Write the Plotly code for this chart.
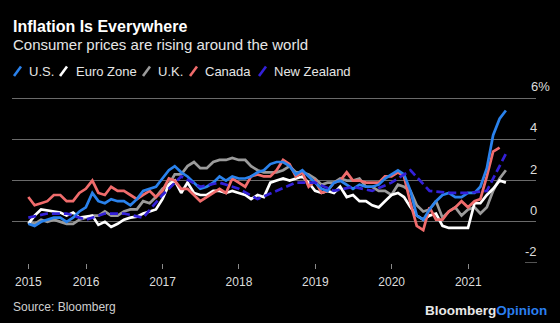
import pandas as pd
import plotly.graph_objects as go

# ---------------- data ----------------
months = pd.date_range("2015-03-31", periods=76, freq=pd.offsets.MonthEnd())
quarters = pd.date_range("2015-03-31", periods=26, freq=pd.offsets.QuarterEnd())

us = [-0.1, -0.2, 0.0, 0.1, 0.2, 0.2, 0.0, 0.2, 0.5, 0.7,
      1.4, 1.0, 0.9, 1.1, 1.0, 1.0, 0.8, 1.1, 1.5, 1.6, 1.7, 2.1,
      2.5, 2.7, 2.4, 2.2, 1.9, 1.6, 1.7, 1.9, 2.2, 2.0, 2.2, 2.1,
      2.1, 2.2, 2.4, 2.5, 2.8, 2.9, 2.9, 2.7, 2.3, 2.5, 2.2, 1.9,
      1.6, 1.5, 1.9, 2.0, 1.8, 1.6, 1.8, 1.7, 1.7, 1.8, 2.1, 2.3,
      2.5, 2.3, 1.5, 0.3, 0.1, 0.6, 1.0, 1.3, 1.4, 1.2, 1.2, 1.4,
      1.4, 1.7, 2.6, 4.2, 5.0, 5.4]

euro = [-0.1, 0.3, 0.6, 0.55, 0.5, 0.45, 0.3, 0.45, 0.2, 0.25,
        0.3, -0.15, 0.0, -0.25, -0.1, 0.1, 0.2, 0.25, 0.4, 0.5, 0.6, 1.1,
        1.8, 2.0, 1.4, 1.9, 1.4, 1.3, 1.3, 1.5, 1.5, 1.4, 1.5, 1.4,
        1.3, 1.1, 1.3, 1.2, 1.9, 2.0, 2.1, 2.0, 2.1, 2.2, 1.9, 1.5,
        1.4, 1.5, 1.4, 1.7, 1.2, 1.3, 1.0, 1.0, 0.8, 0.7, 1.0, 1.3,
        1.4, 1.2, 0.7, 0.3, 0.1, 0.3, 0.4, -0.2, -0.3, -0.3, -0.3, -0.3,
        0.9, 0.9, 1.3, 1.6, 2.0, 1.9]

uk = [0.0, -0.1, 0.1, 0.0, 0.1, 0.0, -0.1, -0.1, 0.1, 0.2,
      0.3, 0.3, 0.5, 0.3, 0.3, 0.5, 0.6, 0.6, 1.0, 0.9, 1.2, 1.6,
      1.8, 2.3, 2.3, 2.7, 2.9, 2.6, 2.6, 2.9, 3.0, 3.0, 3.1, 3.0,
      3.0, 2.7, 2.5, 2.4, 2.4, 2.4, 2.5, 2.7, 2.4, 2.4, 2.3, 2.1,
      1.8, 1.9, 1.9, 2.1, 2.0, 2.0, 2.1, 1.7, 1.7, 1.5, 1.5, 1.3,
      1.8, 1.7, 1.5, 0.8, 0.5, 0.6, 1.0, 0.2, 0.5, 0.7, 0.3, 0.6,
      0.7, 0.4, 0.7, 1.5, 2.1, 2.5]

canada = [1.2, 0.8, 0.9, 1.0, 1.3, 1.3, 1.0, 1.0, 1.4, 1.6,
          2.0, 1.4, 1.3, 1.7, 1.5, 1.5, 1.3, 1.1, 1.3, 1.5, 1.2, 1.5,
          2.1, 2.0, 1.6, 1.6, 1.3, 1.0, 1.2, 1.4, 1.6, 1.4, 2.1, 1.9,
          1.7, 2.2, 2.3, 2.2, 2.2, 2.5, 3.0, 2.8, 2.2, 2.4, 1.7, 2.0,
          1.4, 1.5, 1.9, 2.0, 2.4, 2.0, 2.0, 1.9, 1.9, 1.9, 2.2, 2.2,
          2.4, 2.2, 0.9, -0.2, -0.4, 0.7, 0.1, 0.1, 0.5, 0.7, 1.0, 0.7,
          1.0, 1.1, 2.2, 3.4, 3.6]

new_zealand = [0.2, 0.4, 0.4, 0.1,
               0.4, 0.4, 0.2, 1.3,
               2.2, 1.7, 1.9, 1.6,
               1.1, 1.5, 1.9, 1.9,
               1.5, 1.7, 1.5, 1.9,
               2.5, 1.5, 1.4, 1.4,
               1.5, 3.3]

series_names = ["U.S.", "Euro Zone", "U.K.", "Canada", "New Zealand"]
year_tick_dates = ["2015-03-31", "2016-01-01", "2017-01-01", "2018-01-01",
                   "2019-01-01", "2020-01-01", "2021-01-01"]
year_tick_labels = ["2015", "2016", "2017", "2018", "2019", "2020", "2021"]
y_tick_values = [6, 4, 2, 0, -2]
y_tick_labels = ["6%", "4", "2", "0", "-2"]

# ---------------- style ----------------
FONT = "Liberation Sans, Arial, Helvetica, sans-serif"
C_US, C_EU, C_UK, C_CA, C_NZ = "#2a82ec", "#ffffff", "#9b9b9b", "#f06c6c", "#3320d8"
W, H = 560, 323
PL, PR, PT, PB = 12, 536, 94, 263


def pxx(x):
    return (x - PL) / (PR - PL)


def pyy(y):
    return (PB - y) / (PB - PT)


fig = go.Figure()
traces = [
    (months[:len(uk)], uk, C_UK, "solid", "U.K."),
    (months[:len(euro)], euro, C_EU, "solid", "Euro Zone"),
    (months[:len(canada)], canada, C_CA, "solid", "Canada"),
    (months[:len(us)], us, C_US, "solid", "U.S."),
    (quarters[:len(new_zealand)], new_zealand, C_NZ, "8px,4px", "New Zealand"),
]
for xs, ys, col, dash, nm in traces:
    fig.add_trace(go.Scatter(x=xs, y=ys, mode="lines", name=nm,
                             line=dict(color=col, width=2.7, dash=dash),
                             showlegend=False, hoverinfo="skip"))

annotations = []
shapes = []

# title / subtitle
annotations.append(dict(text="<b>Inflation Is Everywhere</b>", x=pxx(11), y=pyy(26.5),
                        xref="paper", yref="paper", xanchor="left", yanchor="middle",
                        showarrow=False, font=dict(family=FONT, size=16, color="#ffffff")))
annotations.append(dict(text="Consumer prices are rising around the world", x=pxx(11), y=pyy(44),
                        xref="paper", yref="paper", xanchor="left", yanchor="middle",
                        showarrow=False, font=dict(family=FONT, size=15, color="#e6e6e6")))

# custom legend
legend_colors = [C_US, C_EU, C_UK, C_CA, C_NZ]
slash_x = [14, 60, 143, 190, 259]
text_x = [27, 74, 156, 203, 272]
for nm, col, sx, tx in zip(series_names, legend_colors, slash_x, text_x):
    shapes.append(dict(type="line", xref="paper", yref="paper",
                       x0=pxx(sx), x1=pxx(sx + 7), y0=pyy(76), y1=pyy(66.5),
                       line=dict(color=col, width=2.6)))
    annotations.append(dict(text=nm, x=pxx(tx), y=pyy(71.5), xref="paper", yref="paper",
                            xanchor="left", yanchor="middle", showarrow=False,
                            font=dict(family=FONT, size=13, color="#e6e6e6")))

# y labels (right side, above gridlines)
for v, lab in zip(y_tick_values, y_tick_labels):
    if lab.endswith("%"):
        annotations.append(dict(text=lab, x=pxx(528.5), y=v, xref="paper", yref="y",
                                xanchor="left", yanchor="middle", yshift=11.5, showarrow=False,
                                font=dict(family=FONT, size=13, color="#dddddd")))
    else:
        annotations.append(dict(text=lab, x=pxx(538.5), y=v, xref="paper", yref="y",
                                xanchor="right", yanchor="middle", yshift=11.5, showarrow=False,
                                font=dict(family=FONT, size=13, color="#dddddd")))

# short baseline under -2 label
shapes.append(dict(type="line", xref="paper", yref="y", x0=pxx(525), x1=pxx(537),
                   y0=-2, y1=-2, line=dict(color="#8a8a8a", width=1.2)))

# source and logo
annotations.append(dict(text="Source: Bloomberg", x=pxx(11), y=pyy(307),
                        xref="paper", yref="paper", xanchor="left", yanchor="middle",
                        showarrow=False, font=dict(family=FONT, size=12, color="#cfcfcf")))
annotations.append(dict(text="<b>Bloomberg<span style='color:#2a7ff0'>Opinion</span></b>",
                        x=pxx(549), y=pyy(310), xref="paper", yref="paper",
                        xanchor="right", yanchor="middle", showarrow=False,
                        font=dict(family=FONT, size=13.5, color="#e8e8e8")))

fig.update_layout(
    width=W, height=H,
    margin=dict(l=PL, r=W - PR, t=PT, b=H - PB, pad=0),
    paper_bgcolor="#000000", plot_bgcolor="#000000",
    showlegend=False,
    annotations=annotations, shapes=shapes,
    xaxis=dict(type="date", range=["2015-01-12", "2021-11-21"],
               tickvals=year_tick_dates, ticktext=year_tick_labels,
               ticks="outside", ticklen=5, tickwidth=1, tickcolor="#8a8a8a",
               ticklabelstandoff=3,
               showgrid=False, zeroline=False, showline=False,
               tickfont=dict(family=FONT, size=12, color="#dddddd")),
    yaxis=dict(range=[-2, 6.2], tickvals=[0, 2, 4, 6], showticklabels=False,
               showgrid=True, gridcolor="#6a6a6a", gridwidth=1.2,
               zeroline=False, showline=False, ticks=""),
)

fig.write_html("out.html")
